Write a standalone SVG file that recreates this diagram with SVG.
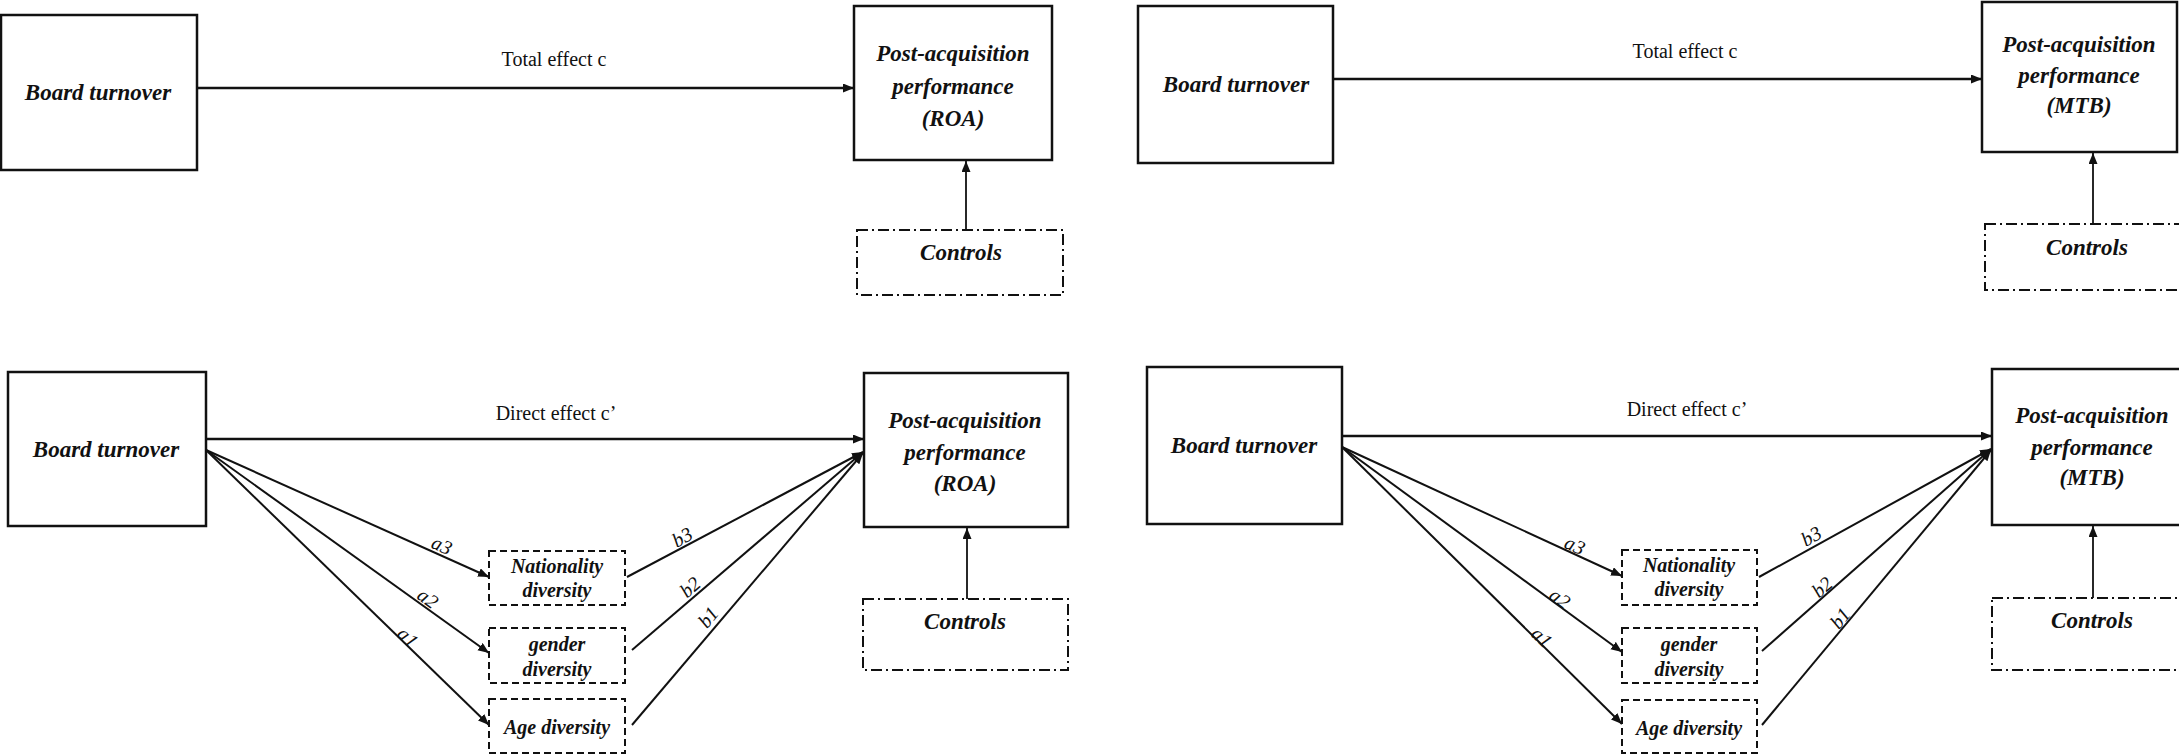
<svg xmlns="http://www.w3.org/2000/svg" width="2179" height="755" viewBox="0 0 2179 755">
<defs>
<marker id="ah" markerUnits="userSpaceOnUse" markerWidth="12" markerHeight="10" refX="11" refY="4.5" orient="auto">
<path d="M0,0 L11,4.5 L0,9 z" fill="#111"/>
</marker>
<style>
.box{fill:#fff;stroke:#111;stroke-width:2.5}
.med{fill:#fff;stroke:#111;stroke-width:2;stroke-dasharray:7 4}
.ctl{fill:#fff;stroke:#111;stroke-width:2;stroke-dasharray:11 4 2 4}
.t{font-family:"Liberation Serif","Times New Roman",serif;font-weight:bold;font-style:italic;font-size:23px;fill:#111;text-anchor:middle}
.m{font-family:"Liberation Serif","Times New Roman",serif;font-weight:bold;font-style:italic;font-size:20px;fill:#111;text-anchor:middle}
.lbl{font-family:"Liberation Serif","Times New Roman",serif;font-size:20px;fill:#111;text-anchor:middle}
.al{font-family:"Liberation Serif","Times New Roman",serif;font-style:italic;font-size:20px;fill:#111;text-anchor:middle;dominant-baseline:central}
.main{stroke:#111;stroke-width:2.5;fill:none;marker-end:url(#ah)}
.diag{stroke:#111;stroke-width:2;fill:none;marker-end:url(#ah)}
.up{stroke:#111;stroke-width:1.8;fill:none;marker-end:url(#ah)}
</style>
</defs>
<rect width="2179" height="755" fill="#fff"/>

<!-- Panel 1: ROA total effect -->
<g id="roa-top-board"><rect class="box" x="1" y="15" width="196" height="155"/><text class="t" x="98" y="100">Board turnover</text></g>
<g id="roa-top-post"><rect class="box" x="854" y="6" width="198" height="154"/>
<text class="t" x="953" y="61">Post-acquisition</text><text class="t" x="953" y="94">performance</text><text class="t" x="953" y="126">(ROA)</text></g>
<g id="roa-top-controls"><rect class="ctl" x="857" y="230" width="206" height="65"/><text class="t" x="961" y="260">Controls</text></g>

<!-- Panel 2: MTB total effect -->
<g id="mtb-top-board"><rect class="box" x="1138" y="6" width="195" height="157"/><text class="t" x="1236" y="92">Board turnover</text></g>
<g id="mtb-top-post"><rect class="box" x="1982" y="2" width="195" height="150"/>
<text class="t" x="2079" y="52">Post-acquisition</text><text class="t" x="2079" y="83">performance</text><text class="t" x="2079" y="113">(MTB)</text></g>
<g id="mtb-top-controls"><rect class="ctl" x="1985" y="224" width="210" height="66"/><text class="t" x="2087" y="255">Controls</text></g>

<!-- Panel 3: ROA mediation -->
<g id="roa-bot-board"><rect class="box" x="8" y="372" width="198" height="154"/><text class="t" x="106" y="457">Board turnover</text></g>
<g id="roa-bot-post"><rect class="box" x="864" y="373" width="204" height="154"/>
<text class="t" x="965" y="428">Post-acquisition</text><text class="t" x="965" y="460">performance</text><text class="t" x="965" y="491">(ROA)</text></g>
<g id="roa-bot-controls"><rect class="ctl" x="863" y="599" width="205" height="71"/><text class="t" x="965" y="629">Controls</text></g>
<g id="roa-nat"><rect class="med" x="489" y="551" width="136" height="54"/><text class="m" x="557" y="573">Nationality</text><text class="m" x="557" y="597">diversity</text></g>
<g id="roa-gen"><rect class="med" x="489" y="628" width="136" height="55"/><text class="m" x="557" y="651">gender</text><text class="m" x="557" y="676">diversity</text></g>
<g id="roa-age"><rect class="med" x="489" y="699" width="136" height="54"/><text class="m" x="557" y="734">Age diversity</text></g>

<!-- Panel 4: MTB mediation -->
<g id="mtb-bot-board"><rect class="box" x="1147" y="367" width="195" height="157"/><text class="t" x="1244" y="453">Board turnover</text></g>
<g id="mtb-bot-post"><rect class="box" x="1992" y="369" width="200" height="156"/>
<text class="t" x="2092" y="423">Post-acquisition</text><text class="t" x="2092" y="455">performance</text><text class="t" x="2092" y="485">(MTB)</text></g>
<g id="mtb-bot-controls"><rect class="ctl" x="1992" y="598" width="200" height="72"/><text class="t" x="2092" y="628">Controls</text></g>
<g id="mtb-nat"><rect class="med" x="1622" y="550" width="135" height="55"/><text class="m" x="1689" y="572">Nationality</text><text class="m" x="1689" y="596">diversity</text></g>
<g id="mtb-gen"><rect class="med" x="1622" y="628" width="135" height="55"/><text class="m" x="1689" y="651">gender</text><text class="m" x="1689" y="676">diversity</text></g>
<g id="mtb-age"><rect class="med" x="1622" y="700" width="135" height="53"/><text class="m" x="1689" y="735">Age diversity</text></g>

<g id="connectors">
<!-- ROA top -->
<line class="main" x1="197" y1="88" x2="854" y2="88"/>
<line class="up" x1="966" y1="230" x2="966" y2="161"/>
<!-- MTB top -->
<line class="main" x1="1333" y1="79" x2="1982" y2="79"/>
<line class="up" x1="2093" y1="224" x2="2093" y2="153"/>
<!-- ROA bottom -->
<line class="main" x1="206" y1="439" x2="864" y2="439"/>
<line class="up" x1="967" y1="599" x2="967" y2="528"/>
<line class="diag" x1="206" y1="450" x2="489" y2="577"/>
<line class="diag" x1="206" y1="450" x2="489" y2="653"/>
<line class="diag" x1="206" y1="450" x2="489" y2="725"/>
<line class="diag" x1="627" y1="577" x2="863" y2="452"/>
<line class="diag" x1="632" y1="650" x2="863" y2="452"/>
<line class="diag" x1="632" y1="725" x2="863" y2="453"/>
<!-- MTB bottom -->
<line class="main" x1="1342" y1="436" x2="1992" y2="436"/>
<line class="up" x1="2093" y1="598" x2="2093" y2="526"/>
<line class="diag" x1="1342" y1="447" x2="1622" y2="576"/>
<line class="diag" x1="1342" y1="447" x2="1622" y2="652"/>
<line class="diag" x1="1342" y1="447" x2="1622" y2="724"/>
<line class="diag" x1="1759" y1="577" x2="1991" y2="449"/>
<line class="diag" x1="1762" y1="651" x2="1991" y2="449"/>
<line class="diag" x1="1762" y1="725" x2="1991" y2="450"/>
</g>

<g id="labels">
<text class="lbl" x="554" y="66">Total effect c</text>
<text class="lbl" x="1685" y="58">Total effect c</text>
<text class="lbl" x="556" y="420">Direct effect c’</text>
<text class="lbl" x="1687" y="416">Direct effect c’</text>
<text class="al" transform="translate(442,545) rotate(24)">a3</text>
<text class="al" transform="translate(428,598) rotate(36)">a2</text>
<text class="al" transform="translate(408,637) rotate(44)">a1</text>
<text class="al" transform="translate(682,537) rotate(-29)">b3</text>
<text class="al" transform="translate(690,587) rotate(-41)">b2</text>
<text class="al" transform="translate(708,617) rotate(-50)">b1</text>
<text class="al" transform="translate(1575,545) rotate(24)">a3</text>
<text class="al" transform="translate(1560,598) rotate(36)">a2</text>
<text class="al" transform="translate(1542,637) rotate(44)">a1</text>
<text class="al" transform="translate(1811,536) rotate(-29)">b3</text>
<text class="al" transform="translate(1822,587) rotate(-41)">b2</text>
<text class="al" transform="translate(1840,618) rotate(-50)">b1</text>
</g>
</svg>
